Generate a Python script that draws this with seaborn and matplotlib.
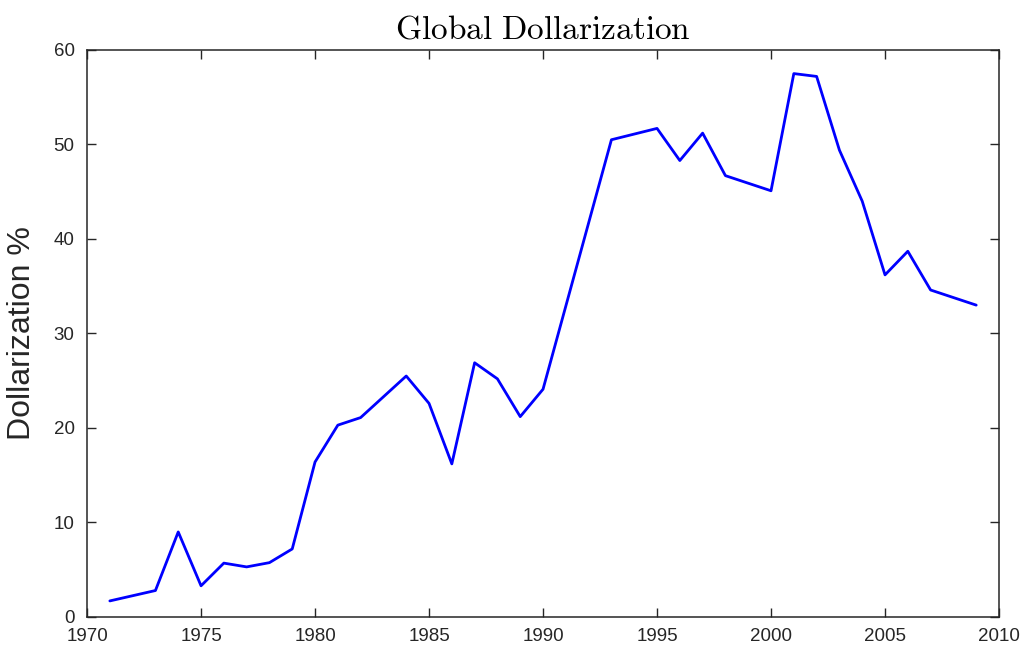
import pandas as pd
import matplotlib
matplotlib.use("Agg")
import matplotlib.pyplot as plt
import seaborn as sns

# Global dollarization share (%)
years = [1971, 1973, 1974, 1975, 1976, 1977, 1978, 1979, 1980, 1981, 1982,
         1984, 1985, 1986, 1987, 1988, 1989, 1990, 1993, 1995, 1996, 1997,
         1998, 2000, 2001, 2002, 2003, 2004, 2005, 2006, 2007, 2009]
dollarization = [1.7, 2.8, 9.0, 3.3, 5.7, 5.3, 5.75, 7.2, 16.4, 20.3, 21.1,
                 25.5, 22.6, 16.2, 26.9, 25.2, 21.2, 24.1, 50.5, 51.7, 48.3, 51.2,
                 46.7, 45.1, 57.5, 57.2, 49.4, 44.0, 36.2, 38.7, 34.6, 33.0]
x_ticks = [1970, 1975, 1980, 1985, 1990, 1995, 2000, 2005, 2010]
y_ticks = [0, 10, 20, 30, 40, 50, 60]

df = pd.DataFrame({"year": years, "pct": dollarization})

sns.set_style("ticks")
plt.rcParams["font.family"] = ["Liberation Sans", "DejaVu Sans"]
plt.rcParams["mathtext.fontset"] = "cm"

fig = plt.figure(figsize=(10.24, 6.54), dpi=100)
ax = fig.add_axes([0.085, 0.0566, 0.8906, 0.867])

sns.lineplot(data=df, x="year", y="pct", color="#0000ff", linewidth=2.0, ax=ax)

ax.set_xlim(1970, 2010)
ax.set_ylim(0, 60)
ax.set_xticks(x_ticks)
ax.set_yticks(y_ticks)
ax.tick_params(direction="in", length=6.5, width=1.0, top=True, right=True,
               labelsize=13.5, colors="#262626")
ax.tick_params(axis="x", pad=8)
ax.tick_params(axis="y", pad=9)
for s in ax.spines.values():
    s.set_visible(True)
    s.set_color("#262626")
    s.set_linewidth(1.1)

ax.set_xlabel("")
ax.set_ylabel("Dollarization %", fontsize=23, color="#262626", labelpad=12)
ax.set_title(r"$\mathrm{Global\ Dollarization}$", fontsize=24, color="black", pad=8)

fig.savefig("out.png", dpi=100)
